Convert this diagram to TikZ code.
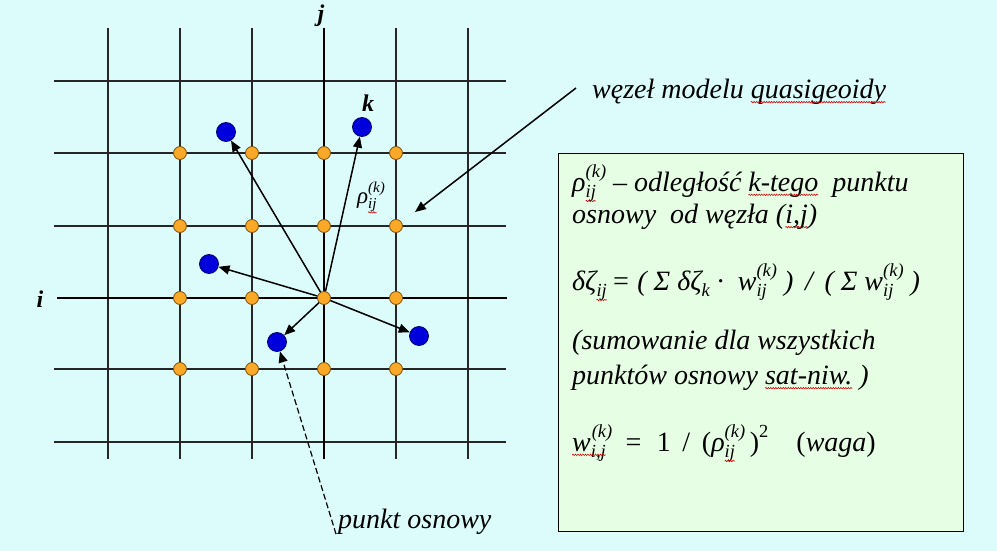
\documentclass[tikz,border=0pt]{standalone}
\usepackage{fontspec}
\setmainfont{Liberation Serif}
\newfontfamily\tnr{Liberation Serif}
\usetikzlibrary{arrows.meta,decorations.pathmorphing}
\definecolor{bgc}{RGB}{220,252,252}
\definecolor{boxc}{RGB}{230,255,228}
\definecolor{orangec}{RGB}{250,168,40}
\definecolor{orangeline}{RGB}{120,80,10}
\definecolor{bluec}{RGB}{0,0,220}
\definecolor{blueline}{RGB}{0,0,110}
\tikzset{spell/.style={red!80!black,line width=0.6pt,decorate,decoration={snake,amplitude=0.7pt,segment length=2.5pt}}}
\newlength\sqlen
\newcommand{\sq}[1]{\settowidth\sqlen{#1}#1\tikz[reset cm,overlay,baseline=0pt]\draw[spell] (-\sqlen,-3.5pt) -- (0pt,-3.5pt);}
\makeatletter
\newcommand{\scr}{\fontsize{\fpeval{0.66*\f@size}}{1}\selectfont}
\makeatother
\newcommand{\SUB}[1]{\raisebox{-0.22em}{\scr #1}}
\newcommand{\SUP}[1]{\raisebox{0.5em}{\scr #1}}
\newcommand{\subsup}[2]{\makebox[0pt][l]{\SUB{#1}}\SUP{#2}}
\begin{document}
\begin{tikzpicture}[x=1pt,y=-1pt,
  gridline/.style={line width=1.1pt,black!85},
  axisline/.style={line width=2.4pt,black},
  odot/.style={circle,fill=orangec,draw=orangeline,line width=0.8pt,minimum size=13pt,inner sep=0pt},
  bdot/.style={circle,fill=bluec,draw=blueline,line width=0.8pt,minimum size=19pt,inner sep=0pt},
  arr/.style={line width=1.5pt,-{Triangle[length=11pt,width=9pt]}},
  big/.style={font=\tnr\fontsize{28}{34}\selectfont\itshape,inner sep=0pt,anchor=west},
  axlabel/.style={font=\tnr\fontsize{24}{26}\selectfont\bfseries\itshape,inner sep=0pt}]
\path[fill=bgc] (0,0) rectangle (997,551);
% grid
\foreach \x in {108,180,252,396,468} \draw[gridline] (\x,28) -- (\x,459);
\foreach \y in {81,153,226,369,442} \draw[gridline] (54,\y) -- (506,\y);
\draw[axisline] (324,28) -- (324,459);
\draw[axisline] (57,298) -- (507,298);
\node[axlabel] (lj) at (321,16) {j};
\node[axlabel] (li) at (40,299) {i};
\node[axlabel] (lk) at (368,103) {k};
% orange nodes
\foreach \x [count=\a] in {180,252,324,396}
  \foreach \y [count=\b] in {153,226,298,369}
    \node[odot] (o\a\b) at (\x,\y) {};
% blue points
\node[bdot] (p1) at (226,132) {};
\node[bdot] (p2) at (362,127) {};
\node[bdot] (p3) at (209,264) {};
\node[bdot] (p4) at (277,342) {};
\node[bdot] (p5) at (419,336) {};
\foreach \p in {p1,p2,p3,p4,p5} \draw[arr] (o33) -- (\p);
\node[font=\tnr\fontsize{23}{26}\selectfont\itshape,inner sep=0pt] (rho) at (371,197) {ρ\subsup{\sq{ij}}{(k)}};
% annotations
\node[big] (wz) at (592,92) {węzeł modelu \sq{quasigeoidy}};
\coordinate (wzs) at (576,88);
\coordinate (wzt) at (415,212);
\draw[arr] (wzs) -- (wzt);
\node[big] (po) at (338,522) {punkt osnowy};
\coordinate (pos) at (336,534);
\draw[arr,dash pattern=on 6pt off 3pt,line width=1.2pt] (pos) -- (p4);
% box
\node[draw=black,line width=1.2pt,fill=boxc,minimum width=405pt,minimum height=378pt,anchor=north west,inner sep=0pt] (box) at (558,153) {};
\node[big] (t1) at (572,183) {ρ\subsup{\sq{ij}}{(k)} – odległość \sq{k-tego}\ \ punktu};
\node[big] (t2) at (572,217) {osnowy\ \ od węzła (\sq{i,j})};
\node[big] (t3) at (572,282) {δζ\SUB{\sq{ij}}\,= ( Σ δζ\SUB{k} · \ w\subsup{ij}{(k)}\ ) \,/\, ( Σ w\subsup{ij}{(k)}\ )};
\node[big] (t4) at (572,343) {(sumowanie dla wszystkich};
\node[big] (t5) at (572,378) {punktów osnowy \sq{sat-niw.} )};
\node[big] (t6) at (572,443) {\sq{w\SUB{i,j}}\hspace{-0.5em}\SUP{(k)}\ \,= \ \upshape 1 \,/\, (\itshape ρ\subsup{\sq{ij}}{(k)}\upshape\,)\SUP{2}\quad(\itshape waga\upshape )};
\end{tikzpicture}
\end{document}
